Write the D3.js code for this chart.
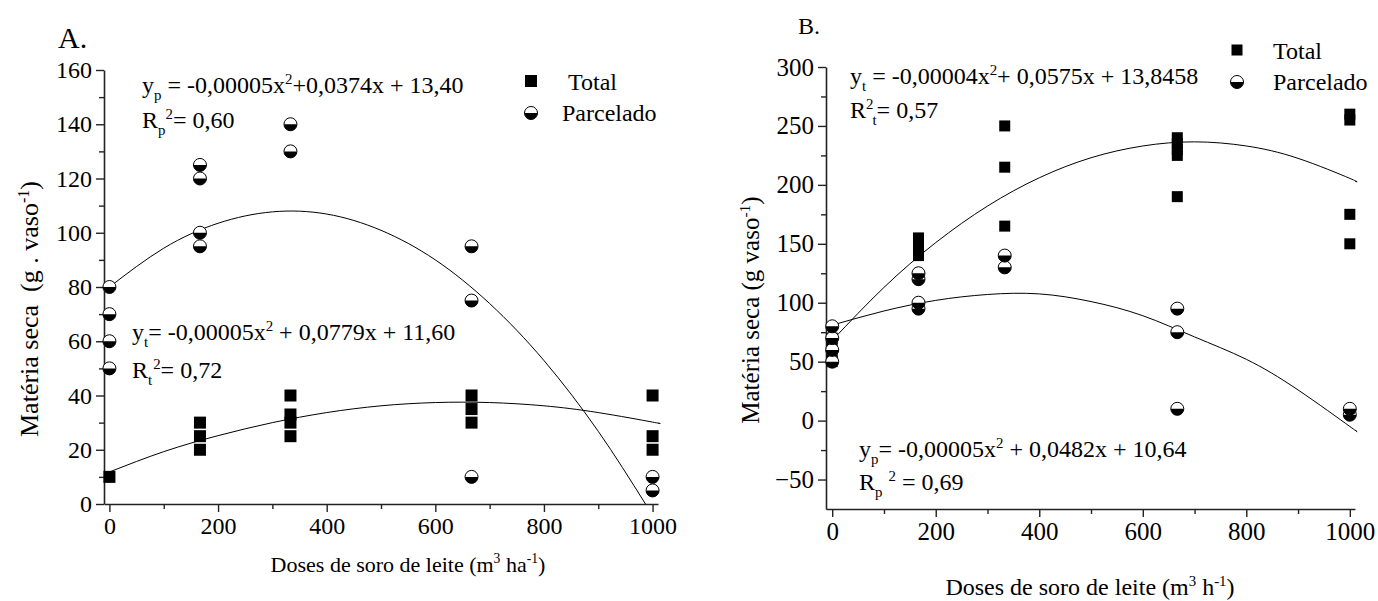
<!DOCTYPE html>
<html>
<head>
<meta charset="utf-8">
<script src="https://cdn.jsdelivr.net/npm/d3@7"></script>
<style>
  body { margin: 0; background: #fff; }
</style>
</head>
<body>
<svg id="chart" width="1378" height="601"></svg>
<script>
// doses de soro (x) - pontos de cada tratamento
var doses = [0, 166.7, 333.3, 666.7, 1000];

// painel A
var aTotal = [[10], [20, 25, 30], [25, 30, 33, 40], [30, 35, 40], [20, 25, 40]];
var aParcelado = [[50, 60, 70, 80], [95, 100, 120, 125], [130, 140], [10, 75, 95], [5, 10]];
// painel B
var bTotal = [[50, 55, 65, 70], [140, 145, 150, 155], [165, 215, 250], [190, 225, 230, 235, 240], [150, 175, 255, 260]];
var bParcelado = [[50, 60, 70, 80], [95, 100, 120, 125], [130, 140], [10, 75, 95], [5, 10]];

// curvas de regressao
var fitX = [0, 100, 200, 300, 400, 500, 600, 700, 800, 900, 1000, 1010];
var aTotalFit = [11.8, 19.3, 25.2, 30.0, 33.7, 36.2, 37.4, 37.4, 36.2, 33.7, 30.2, 29.8];
var aParcFitX = [0, 100, 200, 300, 400, 500, 600, 700, 800, 900, 987];
var aParcFit = [80, 94.3, 103.5, 107.7, 106.9, 100.9, 90, 73.9, 52.9, 26.8, 0];
var bTotalFit = [68, 113, 151, 182, 206, 223, 233, 236.5, 233, 222.5, 205.5, 203];
var bParcFit = [81, 93, 102, 107, 107.5, 101, 89, 71, 52, 26, -5, -8];

// ticks
var xMajor = [0, 200, 400, 600, 800, 1000];
var xMinor = [100, 300, 500, 700, 900];
var aYMajor = [0, 20, 40, 60, 80, 100, 120, 140, 160];
var aYMinor = [10, 30, 50, 70, 90, 110, 130, 150];
var bYMajor = [-50, 0, 50, 100, 150, 200, 250, 300];
var bYMinor = [-25, 25, 75, 125, 175, 225, 275];

var FONT = '"Liberation Serif", "Times New Roman", "DejaVu Serif", serif';
var svg = d3.select('#chart');

function flatten(series) {
    var out = [];
    series.forEach(function(vals, i) {
        vals.forEach(function(v) { out.push({x: doses[i], y: v}); });
    });
    return out;
}

function txt(g) {
    return g.append('text').style('font-family', FONT).attr('fill', '#000');
}

// texto com sub/sobrescrito: parts = [[texto, tipo, dx]]
function richText(g, x, y, size, parts) {
    var t = txt(g)
        .attr('x', x)
        .attr('y', y)
        .style('font-size', size + 'px')
        .style('white-space', 'pre');
    var shift = 0;
    parts.forEach(function(p) {
        var target = p[1] == 'sub' ? 7 : (p[1] == 'sup' ? -9 : 0);
        var ts = t.append('tspan')
            .attr('dy', target - shift)
            .text(p[0]);
        if(p[1] == 'sub' || p[1] == 'sup') ts.style('font-size', (size * 0.62) + 'px');
        if(p[2]) ts.attr('dx', p[2]);
        shift = target;
    });
    return t;
}

function halfCircle(sel, r) {
    sel.append('circle')
        .attr('r', r)
        .attr('fill', '#fff')
        .attr('stroke', '#000')
        .attr('stroke-width', 1);
    sel.append('path')
        .attr('d', 'M' + (-r) + ',0 A' + r + ',' + r + ' 0 0,0 ' + r + ',0 Z')
        .attr('fill', '#000');
}

function drawPanel(cfg) {
    var g = svg.append('g');
    var x = d3.scaleLinear().domain(cfg.xDomain).range(cfg.xRange);
    var y = d3.scaleLinear().domain(cfg.yDomain).range(cfg.yRange);
    var fmt = d3.format('d');

    // eixos
    var xg = g.append('g').attr('transform', 'translate(0,' + cfg.yRange[0] + ')');
    xg.call(d3.axisBottom(x).tickValues(xMajor).tickFormat(fmt).tickSize(8).tickSizeOuter(0).tickPadding(5));
    xg.append('g').call(d3.axisBottom(x).tickValues(xMinor).tickSize(5).tickFormat(''))
        .select('.domain').remove();
    var yg = g.append('g').attr('transform', 'translate(' + cfg.xRange[0] + ',0)');
    yg.call(d3.axisLeft(y).tickValues(cfg.yMajor).tickFormat(fmt).tickSize(8).tickSizeOuter(0).tickPadding(4));
    yg.append('g').call(d3.axisLeft(y).tickValues(cfg.yMinor).tickSize(5).tickFormat(''))
        .select('.domain').remove();
    g.selectAll('.domain').attr('stroke', '#222').attr('stroke-width', 1.6);
    g.selectAll('.tick line').attr('stroke', '#222').attr('stroke-width', 1.4);
    g.selectAll('.tick text')
        .style('font-family', FONT)
        .style('font-size', cfg.tickSize + 'px')
        .attr('fill', '#000');

    // curvas
    var line = d3.line()
        .x(function(d) { return x(d[0]); })
        .y(function(d) { return y(d[1]); })
        .curve(d3.curveNatural);
    cfg.fits.forEach(function(f) {
        g.append('path')
            .datum(f[0].map(function(v, i) { return [v, f[1][i]]; }))
            .attr('fill', 'none')
            .attr('stroke', '#000')
            .attr('stroke-width', 1)
            .attr('d', line);
    });

    // total - quadrados
    var s = cfg.sq;
    g.selectAll('.total')
        .data(flatten(cfg.total))
        .enter()
        .append('rect')
        .attr('class', 'total')
        .attr('x', function(d) { return x(d.x) - s / 2; })
        .attr('y', function(d) { return y(d.y) - s / 2; })
        .attr('width', s)
        .attr('height', s)
        .attr('fill', '#000');

    // parcelado - circulos meio cheios
    var pts = g.selectAll('.parc')
        .data(flatten(cfg.parc))
        .enter()
        .append('g')
        .attr('class', 'parc')
        .attr('transform', function(d) { return 'translate(' + x(d.x) + ',' + y(d.y) + ')'; });
    halfCircle(pts, 6.5);

    // legenda
    var lg = g.append('g');
    lg.append('rect')
        .attr('x', cfg.legX - s / 2).attr('y', cfg.legY[0] - s / 2)
        .attr('width', s).attr('height', s).attr('fill', '#000');
    halfCircle(lg.append('g').attr('transform', 'translate(' + cfg.legX + ',' + cfg.legY[1] + ')'), 6.5);
    txt(lg).attr('x', cfg.legTextX[0]).attr('y', cfg.legY[0] + 9)
        .style('font-size', '24px').text('Total');
    txt(lg).attr('x', cfg.legTextX[1]).attr('y', cfg.legY[1] + 8)
        .style('font-size', '24px').text('Parcelado');

    return g;
}

// ---------- painel A ----------
var gA = drawPanel({
    xDomain: [-10, 1010], xRange: [104, 658],
    yDomain: [0, 160], yRange: [504, 70],
    yMajor: aYMajor, yMinor: aYMinor,
    tickSize: 24, sq: 12,
    total: aTotal, parc: aParcelado,
    fits: [[fitX, aTotalFit], [aParcFitX, aParcFit]],
    legX: 531, legY: [81, 113], legTextX: [568, 562]
});
txt(gA).attr('x', 58).attr('y', 48).style('font-size', '30px').text('A.');
richText(gA, 142, 93, 24, [['y'], ['p', 'sub'], [' = -0,00005x'], ['2', 'sup'], ['+0,0374x + 13,40']]);
richText(gA, 142, 128, 24, [['R'], ['p', 'sub'], ['2', 'sup', 0], ['= 0,60']]);
richText(gA, 132, 340, 24, [['y'], ['t', 'sub'], ['= -0,00005x'], ['2', 'sup'], [' + 0,0779x + 11,60']]);
richText(gA, 132, 378, 24, [['R'], ['t', 'sub'], ['2', 'sup', 1], ['= 0,72']]);
richText(gA, 408, 572, 22, [['Doses de soro de leite (m'], ['3', 'sup'], [' ha'], ['-1', 'sup'], [')']])
    .attr('text-anchor', 'middle');
richText(gA, 0, 0, 26, [['Matéria seca  (g . vaso'], ['-1', 'sup'], [')']])
    .attr('text-anchor', 'middle')
    .attr('transform', 'translate(38,309) rotate(-90)');

// ---------- painel B ----------
var gB = drawPanel({
    xDomain: [-12, 1010], xRange: [826, 1355],
    yDomain: [-75, 300], yRange: [509, 67],
    yMajor: bYMajor, yMinor: bYMinor,
    tickSize: 25, sq: 11,
    total: bTotal, parc: bParcelado,
    fits: [[fitX, bTotalFit], [fitX, bParcFit]],
    legX: 1237, legY: [50, 82], legTextX: [1273, 1273]
});
txt(gB).attr('x', 798).attr('y', 34).style('font-size', '24px').text('B.');
richText(gB, 850, 84, 24, [['y'], ['t', 'sub'], [' = -0,00004x'], ['2', 'sup'], ['+ 0,0575x + 13,8458']]);
richText(gB, 850, 118, 24, [['R'], ['2', 'sup'], ['t', 'sub', -1], ['= 0,57']]);
richText(gB, 859, 457, 24, [['y'], ['p', 'sub'], ['= -0,00005x'], ['2', 'sup'], [' + 0,0482x + 10,64']]);
richText(gB, 859, 490, 24, [['R'], ['p', 'sub'], [' '], ['2', 'sup'], [' = 0,69']]);
richText(gB, 1090, 595, 24, [['Doses de soro de leite (m'], ['3', 'sup'], [' h'], ['-1', 'sup'], [')']])
    .attr('text-anchor', 'middle');
richText(gB, 0, 0, 25, [['Matéria seca (g vaso'], ['-1', 'sup'], [')']])
    .attr('text-anchor', 'middle')
    .attr('transform', 'translate(759,310) rotate(-90)');
</script>
</body>
</html>
